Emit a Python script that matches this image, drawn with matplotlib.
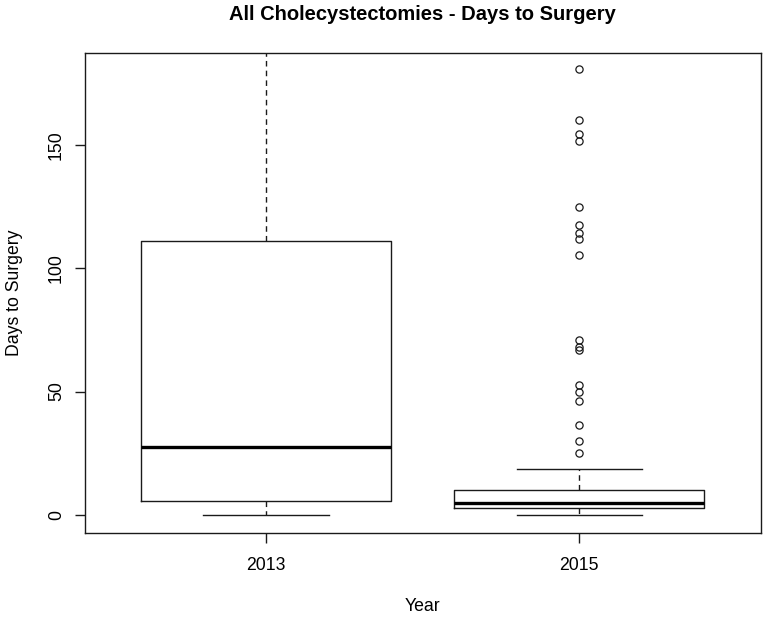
import matplotlib
matplotlib.use("Agg")
import matplotlib.pyplot as plt

plt.rcParams['font.family'] = ['Liberation Sans', 'DejaVu Sans']

years = ["2013", "2015"]
q1 = [5.5, 2.8]
median = [27.6, 4.8]
q3 = [110.9, 9.9]
whisker_low = [0, 0]
whisker_high = [195, 18.7]
outliers_2013 = []
outliers_2015 = [181, 160, 154.5, 151.5, 125, 117.5, 114.5, 112, 105.5,
                 71, 68, 67, 52.5, 50, 46, 36.5, 30, 25]
outliers = [outliers_2013, outliers_2015]

stats = []
for i, y in enumerate(years):
    stats.append(dict(label=y, q1=q1[i], med=median[i], q3=q3[i],
                      whislo=whisker_low[i], whishi=whisker_high[i],
                      fliers=outliers[i]))

lc = '#1a1a1a'
fig = plt.figure(figsize=(7.65, 6.17), dpi=100)
ax = fig.add_axes([84.5/765, 1-532.5/617, (760.7-84.5)/765, (532.5-53.3)/617])

ax.bxp(stats, positions=[1, 2], widths=0.8, showfliers=True,
       boxprops=dict(color=lc, linewidth=1.0),
       medianprops=dict(color='black', linewidth=2.4),
       whiskerprops=dict(color=lc, linewidth=1.0, linestyle=(0, (4, 3))),
       capprops=dict(color=lc, linewidth=1.0),
       capwidths=0.4,
       flierprops=dict(marker='o', markerfacecolor='none', markeredgecolor=lc,
                       markersize=5.2, markeredgewidth=0.9))

ax.set_xlim(0.42, 2.58)
ax.set_ylim(-7.2, 187.2)
ax.set_yticks([0, 50, 100, 150])
ax.set_yticklabels(['0', '50', '100', '150'], rotation=90, va='center')
ax.set_xticks([1, 2])
ax.set_xticklabels(years)
ax.tick_params(axis='both', direction='out', length=7, width=1.0, labelsize=12.7,
               pad=7, colors=lc, labelcolor='black')
ax.tick_params(axis='x', pad=11)
for s in ax.spines.values():
    s.set_linewidth(1.0)
    s.set_color(lc)

ax.set_title("All Cholecystectomies - Days to Surgery", fontsize=14.5,
             fontweight='bold', pad=24)
ax.set_xlabel("Year", fontsize=12.7, labelpad=17)
ax.set_ylabel("Days to Surgery", fontsize=12.7, labelpad=18)

fig.savefig("out.png", dpi=100)
